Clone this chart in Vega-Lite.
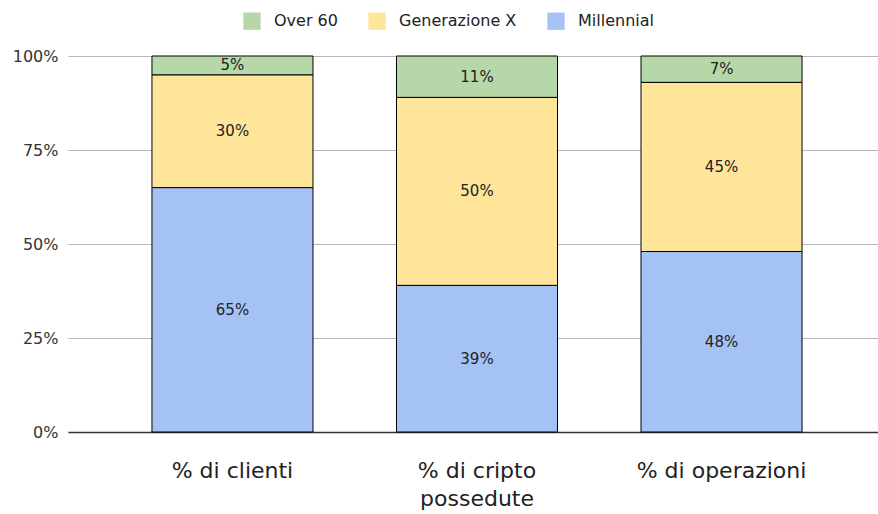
{
  "$schema": "https://vega.github.io/schema/vega-lite/v6.json",
  "width": 810,
  "height": 376,
  "autosize": {"type": "none"},
  "padding": {"left": 68, "top": 56, "right": 0, "bottom": 82},
  "background": "white",
  "config": {"view": {"stroke": null}, "font": "DejaVu Sans"},
  "data": {
    "values": [
      {"cat": "% di clienti", "group": "Millennial", "share": 0.65},
      {"cat": "% di clienti", "group": "Generazione X", "share": 0.30},
      {"cat": "% di clienti", "group": "Over 60", "share": 0.05},
      {"cat": "% di cripto possedute", "group": "Millennial", "share": 0.39},
      {"cat": "% di cripto possedute", "group": "Generazione X", "share": 0.50},
      {"cat": "% di cripto possedute", "group": "Over 60", "share": 0.11},
      {"cat": "% di operazioni", "group": "Millennial", "share": 0.48},
      {"cat": "% di operazioni", "group": "Generazione X", "share": 0.45},
      {"cat": "% di operazioni", "group": "Over 60", "share": 0.07}
    ]
  },
  "transform": [{"stack": "share", "groupby": ["cat"], "as": ["s0", "s1"]}],
  "encoding": {
    "x": {
      "field": "cat",
      "type": "nominal",
      "sort": null,
      "title": null,
      "scale": {"paddingInner": 0.3415, "paddingOuter": 0.327, "align": 0.525},
      "axis": {
        "labelAngle": 0,
        "domain": true,
        "domainColor": "#333333",
        "domainWidth": 1.5,
        "ticks": false,
        "labelFontSize": 22,
        "labelColor": "#222222",
        "labelPadding": 28,
        "labelLineHeight": 28,
        "labelLimit": 400,
        "labelExpr": "datum.label == '% di cripto possedute' ? ['% di cripto', 'possedute'] : datum.label"
      }
    }
  },
  "layer": [
    {
      "mark": {"type": "bar", "stroke": "#000000", "strokeWidth": 1},
      "encoding": {
        "y": {
          "field": "s0",
          "type": "quantitative",
          "title": null,
          "scale": {"domain": [0, 1]},
          "axis": {
            "format": "%",
            "values": [0, 0.25, 0.5, 0.75, 1],
            "domain": false,
            "ticks": false,
            "labelFontSize": 16,
            "labelColor": "#333333",
            "labelPadding": 10,
            "gridColor": "#b7b7b7",
            "gridWidth": 1
          }
        },
        "y2": {"field": "s1"},
        "color": {
          "field": "group",
          "type": "nominal",
          "scale": {
            "domain": ["Over 60", "Generazione X", "Millennial"],
            "range": ["#b6d7a8", "#ffe599", "#a4c2f4"]
          },
          "legend": {
            "orient": "none",
            "legendX": 175,
            "legendY": -44,
            "direction": "horizontal",
            "title": null,
            "symbolType": "square",
            "symbolSize": 300,
            "symbolStrokeWidth": 0,
            "symbolOpacity": 1,
            "labelFontSize": 16,
            "labelColor": "#222222",
            "labelOffset": 13,
            "columnPadding": 30,
            "padding": 0
          }
        }
      }
    },
    {
      "transform": [{"fold": ["s0", "s1"], "as": ["edge", "pos"]}],
      "mark": {"type": "text", "fontSize": 15, "color": "#222222"},
      "encoding": {
        "y": {"field": "pos", "aggregate": "mean", "type": "quantitative", "title": null},
        "detail": {"field": "group"},
        "text": {"field": "share", "type": "quantitative", "format": ".0%"}
      }
    }
  ]
}
